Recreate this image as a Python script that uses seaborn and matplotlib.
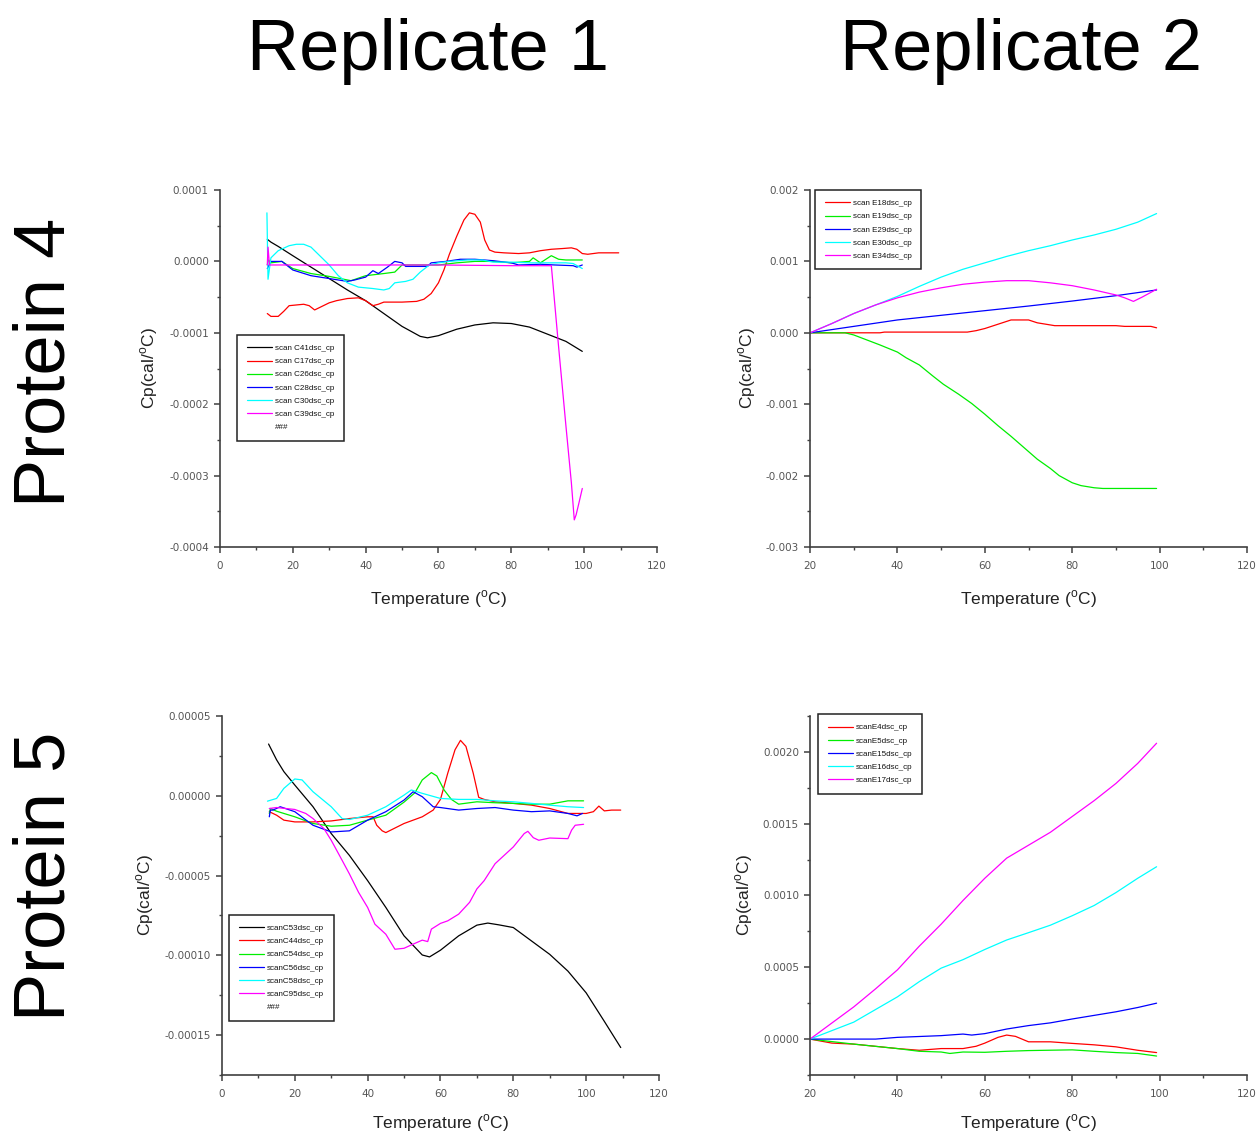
import matplotlib
matplotlib.use("Agg")
import matplotlib.pyplot as plt
import seaborn as sns
from matplotlib.lines import Line2D
from matplotlib.ticker import MultipleLocator, FormatStrFormatter

# ---- Protein 4, replicate 1 (Cp in 1e-4 cal/oC) ----
c41_x = [13, 14, 16, 20, 25, 30, 35, 40, 45, 50, 55, 57, 60, 65, 70, 75, 80, 85, 90, 95, 99.5]
c41_y = [0.31, 0.27, 0.21, 0.08, -0.08, -0.24, -0.40, -0.55, -0.73, -0.91, -1.05, -1.07, -1.04, -0.95,
         -0.89, -0.86, -0.87, -0.92, -1.02, -1.12, -1.26]
c17_x = [13, 14, 16, 17.5, 19, 21, 23, 24.5, 26, 28, 30, 32, 35, 38, 40, 42, 43.5, 45, 50, 54, 56, 58,
         60, 61.5, 63, 65, 67, 68.5, 70, 71.5, 72.7, 74, 75.5, 78, 82, 85, 88, 91, 94, 96.5, 98, 99.5,
         101, 104, 107, 109.5]
c17_y = [-0.73, -0.77, -0.77, -0.70, -0.62, -0.61, -0.60, -0.62, -0.68, -0.63, -0.58, -0.55, -0.52,
         -0.51, -0.55, -0.62, -0.60, -0.57, -0.57, -0.56, -0.53, -0.45, -0.30, -0.12, 0.10, 0.35, 0.58,
         0.68, 0.66, 0.55, 0.30, 0.16, 0.13, 0.12, 0.11, 0.12, 0.15, 0.17, 0.18, 0.19, 0.17, 0.11,
         0.10, 0.12, 0.12, 0.12]
c26_x = [13, 13.3, 14, 17, 20, 25, 30, 34, 36, 40, 45, 48, 50, 55, 60, 65, 70, 75, 80, 85, 86, 88,
         91, 93, 95, 99.5]
c26_y = [-0.05, 0.02, -0.02, 0.0, -0.10, -0.17, -0.21, -0.25, -0.27, -0.20, -0.17, -0.15, -0.05,
         -0.05, -0.05, -0.02, 0.0, 0.0, -0.02, 0.0, 0.05, -0.02, 0.08, 0.03, 0.02, 0.02]
c28_x = [13, 14, 17, 20, 25, 30, 35, 37, 40, 42, 43.5, 46, 48, 50, 51, 57, 58, 62, 66, 70, 75, 80,
         82, 88, 92, 97, 98, 99.5]
c28_y = [-0.10, 0.0, 0.0, -0.12, -0.20, -0.24, -0.28, -0.26, -0.22, -0.13, -0.17, -0.08, 0.0, -0.02,
         -0.07, -0.07, -0.02, 0.0, 0.03, 0.03, 0.01, -0.02, -0.05, -0.04, -0.05, -0.06, -0.08, -0.05]
c30_x = [12.9, 13.2, 14, 16, 19, 21, 23, 25, 27, 30, 32.5, 35, 38, 42, 45, 46.5, 48, 51, 53, 55,
         57.5, 60, 63, 68, 72, 75, 80, 85, 95, 97, 99.5]
c30_y = [0.68, -0.25, 0.05, 0.15, 0.22, 0.24, 0.24, 0.20, 0.10, -0.05, -0.20, -0.30, -0.36, -0.38,
         -0.40, -0.38, -0.30, -0.28, -0.25, -0.15, -0.05, -0.02, 0.0, 0.02, 0.02, -0.01, -0.01,
         -0.02, -0.02, -0.03, -0.10]
c39_x = [13, 13.2, 13.6, 20, 40, 60, 80, 90, 91, 93, 95, 96.5, 97.3, 97.8, 98.5, 99.5]
c39_y = [-0.05, 0.20, -0.05, -0.05, -0.05, -0.05, -0.06, -0.06, -0.06, -1.2, -2.3, -3.1, -3.62,
         -3.55, -3.4, -3.18]

# ---- Protein 4, replicate 2 (Cp in 1e-3 cal/oC) ----
e18_x = [20, 36, 37, 56, 58, 60, 63, 66, 70, 72, 74, 76, 90, 92, 98, 99.3]
e18_y = [0, 0, 0.01, 0.01, 0.03, 0.06, 0.12, 0.18, 0.18, 0.14, 0.12, 0.10, 0.10, 0.09, 0.09, 0.07]
e19_x = [20, 28, 30, 33, 36, 40, 42, 45, 48, 50.5, 54, 57, 60, 63, 66, 69, 72, 75, 77, 80, 82, 85,
         87, 99.3]
e19_y = [0, 0, -0.03, -0.10, -0.17, -0.27, -0.35, -0.45, -0.60, -0.72, -0.86, -0.99, -1.14, -1.30,
         -1.45, -1.61, -1.77, -1.90, -2.00, -2.10, -2.14, -2.17, -2.18, -2.18]
e29_x = [20, 30, 40, 50, 60, 70, 80, 90, 99.3]
e29_y = [0, 0.09, 0.18, 0.245, 0.31, 0.375, 0.445, 0.52, 0.60]
e30_x = [20, 25, 30, 35, 40, 45, 50, 55, 60, 65, 70, 75, 80, 85, 90, 95, 99.3]
e30_y = [0, 0.13, 0.27, 0.39, 0.51, 0.65, 0.78, 0.89, 0.98, 1.07, 1.15, 1.22, 1.30, 1.37, 1.45,
         1.55, 1.67]
e34_x = [20, 25, 30, 35, 40, 45, 50, 55, 60, 65, 70, 75, 80, 85, 90, 92, 94, 96, 99.3]
e34_y = [0, 0.13, 0.27, 0.39, 0.49, 0.57, 0.63, 0.68, 0.71, 0.73, 0.73, 0.70, 0.66, 0.60, 0.53,
         0.49, 0.44, 0.50, 0.61]

# ---- Protein 5, replicate 1 (Cp in 1e-5 cal/oC) ----
c53_x = [12.8, 15, 17, 20, 25, 30, 35, 40, 45, 50, 55, 57, 60, 65, 70, 73, 76, 80, 85, 90, 95, 100,
         105, 109.5]
c53_y = [3.24, 2.25, 1.51, 0.67, -0.69, -2.37, -3.74, -5.32, -7.0, -8.78, -9.98, -10.1, -9.68,
         -8.78, -8.11, -7.98, -8.09, -8.26, -9.1, -9.94, -10.99, -12.35, -14.14, -15.78]
c44_x = [13, 15, 17, 20, 25, 30, 35, 40, 41.5, 42.5, 44, 45, 50, 55, 58, 60, 62, 64, 65.5, 67, 69,
         70.5, 72, 75, 80, 85, 90, 95, 100, 102, 103.5, 105, 107, 109.5]
c44_y = [-1.0, -1.22, -1.53, -1.64, -1.64, -1.58, -1.43, -1.32, -1.32, -1.85, -2.2, -2.31, -1.74,
         -1.32, -0.9, -0.23, 1.41, 2.88, 3.47, 3.09, 1.41, -0.1, -0.23, -0.38, -0.48, -0.59, -0.8,
         -1.11, -1.11, -1.0, -0.65, -0.95, -0.9, -0.9]
c54_x = [13, 13.3, 15, 17, 20, 25, 30, 35, 40, 45, 50, 53, 55, 57.5, 59, 61, 63, 65, 70, 75, 80, 85,
         90, 95, 99.3]
c54_y = [-1.11, -0.8, -0.97, -1.11, -1.32, -1.74, -1.91, -1.85, -1.53, -1.22, -0.4, 0.19, 0.99,
         1.45, 1.24, 0.36, -0.23, -0.53, -0.38, -0.44, -0.48, -0.53, -0.53, -0.32, -0.32]
c56_x = [13, 13.3, 14, 16, 20, 25, 30, 35, 40, 45, 50, 52.5, 55, 58, 60, 65, 70, 75, 80, 85, 90, 95,
         97.5, 99]
c56_y = [-1.32, -0.9, -0.9, -0.69, -1.0, -1.85, -2.27, -2.2, -1.53, -1.0, -0.27, 0.25, -0.06,
         -0.69, -0.74, -0.9, -0.8, -0.74, -0.9, -1.0, -0.95, -1.11, -1.26, -1.11]
c58_x = [12.5, 15, 17, 20, 22, 25, 30, 33, 35, 40, 45, 50, 52, 55, 60, 65, 70, 75, 80, 85, 90, 95,
         99.3]
c58_y = [-0.34, -0.17, 0.46, 1.05, 0.99, 0.25, -0.69, -1.43, -1.49, -1.22, -0.69, 0.04, 0.36,
         0.15, -0.17, -0.23, -0.23, -0.32, -0.38, -0.48, -0.59, -0.69, -0.74]
c95_x = [13, 15, 20, 23, 25, 28, 30, 33, 35, 37.5, 40, 42, 45, 47.5, 50, 52, 55, 56.5, 57.5, 60,
         62, 65, 68, 70, 72, 75, 77, 80, 83, 84, 85.5, 87, 90, 95, 96, 97, 99.3]
c95_y = [-0.8, -0.74, -0.86, -1.11, -1.43, -2.06, -2.79, -4.05, -4.9, -6.05, -7.0, -8.05, -8.68,
         -9.62, -9.56, -9.35, -9.05, -9.14, -8.36, -8.0, -7.84, -7.42, -6.68, -5.84, -5.32, -4.26,
         -3.84, -3.21, -2.37, -2.23, -2.63, -2.79, -2.65, -2.69, -2.16, -1.85, -1.79]

# ---- Protein 5, replicate 2 (Cp in 1e-3 cal/oC) ----
e4_x = [20, 25, 30, 40, 45, 50, 55, 58, 60, 63, 65, 67, 70, 75, 80, 85, 90, 95, 99.3]
e4_y = [0, -0.028, -0.035, -0.066, -0.078, -0.066, -0.066, -0.05, -0.028, 0.012, 0.028, 0.019,
        -0.019, -0.019, -0.03, -0.04, -0.054, -0.078, -0.094]
e5_x = [20, 30, 40, 45, 50, 52, 55, 60, 65, 70, 80, 85, 90, 95, 99.3]
e5_y = [0, -0.035, -0.066, -0.085, -0.09, -0.1, -0.09, -0.092, -0.085, -0.08, -0.075, -0.085,
        -0.094, -0.1, -0.118]
e15_x = [20, 35, 40, 50, 55, 57, 60, 65, 70, 75, 80, 85, 90, 95, 99.3]
e15_y = [0, 0, 0.012, 0.024, 0.035, 0.028, 0.038, 0.07, 0.094, 0.113, 0.14, 0.165, 0.19, 0.22, 0.25]
e16_x = [20, 30, 40, 45, 50, 55, 60, 65, 70, 75, 80, 85, 90, 95, 99.3]
e16_y = [0, 0.118, 0.294, 0.4, 0.494, 0.553, 0.624, 0.69, 0.741, 0.793, 0.859, 0.93, 1.02, 1.12, 1.2]
e17_x = [20, 30, 35, 40, 45, 50, 55, 60, 65, 70, 75, 80, 85, 90, 95, 99.3]
e17_y = [0, 0.224, 0.35, 0.482, 0.647, 0.8, 0.965, 1.12, 1.26, 1.35, 1.44, 1.55, 1.66, 1.78, 1.92,
         2.06]

labels_p4r1 = ["scan C41dsc_cp", "scan C17dsc_cp", "scan C26dsc_cp", "scan C28dsc_cp",
               "scan C30dsc_cp", "scan C39dsc_cp"]
labels_p4r2 = ["scan E18dsc_cp", "scan E19dsc_cp", "scan E29dsc_cp", "scan E30dsc_cp",
               "scan E34dsc_cp"]
labels_p5r1 = ["scanC53dsc_cp", "scanC44dsc_cp", "scanC54dsc_cp", "scanC56dsc_cp",
               "scanC58dsc_cp", "scanC95dsc_cp"]
labels_p5r2 = ["scanE4dsc_cp", "scanE5dsc_cp", "scanE15dsc_cp", "scanE16dsc_cp", "scanE17dsc_cp"]

six_colors = ["#000000", "#ff0000", "#00ee00", "#0000ff", "#00ffff", "#ff00ff"]
five_colors = ["#ff0000", "#00ee00", "#0000ff", "#00ffff", "#ff00ff"]

sns.set_style("ticks")
plt.rcParams["font.family"] = ["Liberation Sans", "DejaVu Sans"]
plt.rcParams["mathtext.fontset"] = "custom"
plt.rcParams["mathtext.rm"] = "Liberation Sans"
plt.rcParams["text.color"] = "black"

fig = plt.figure(figsize=(12.59, 11.33), dpi=100)
fig.patch.set_facecolor("white")

axis_grey = "#404040"


def draw_panel(rect, curves, labels, colors, scale, xlim, ylim, ymajor, fmt, leg_anchor,
               extra_entry, ylab_x, xlab_y):
    ax = fig.add_axes(rect)
    for (xs, ys), lab, col in zip(curves, labels, colors):
        sns.lineplot(x=xs, y=[v * scale for v in ys], ax=ax, color=col, lw=0.9,
                     estimator=None, sort=False, label=lab)
    ax.set_xlim(*xlim)
    ax.set_ylim(*ylim)
    ax.xaxis.set_major_locator(MultipleLocator(20))
    ax.xaxis.set_minor_locator(MultipleLocator(10))
    ax.yaxis.set_major_locator(MultipleLocator(ymajor))
    ax.yaxis.set_minor_locator(MultipleLocator(ymajor / 2))
    ax.yaxis.set_major_formatter(FormatStrFormatter(fmt))
    for side in ["top", "right"]:
        ax.spines[side].set_visible(False)
    for side in ["left", "bottom"]:
        ax.spines[side].set_color(axis_grey)
        ax.spines[side].set_linewidth(1.2)
    ax.tick_params(which="major", direction="out", length=4, width=1.1, color=axis_grey,
                   labelsize=7.5, labelcolor="#555555")
    ax.tick_params(which="minor", direction="out", length=2.2, width=1.0, color=axis_grey)
    ax.tick_params(axis="x", which="major", pad=6)
    ax.tick_params(axis="y", which="major", pad=4)
    for t in ax.get_xticklabels() + ax.get_yticklabels():
        t.set_family("DejaVu Sans")
    ax.set_xlabel(r"Temperature ($^{\mathrm{o}}$C)", fontsize=12.5, color="#222222")
    ax.set_ylabel(r"Cp(cal/$^{\mathrm{o}}$C)", fontsize=12.5, color="#222222")
    ax.xaxis.set_label_coords(0.5, xlab_y)
    ax.yaxis.set_label_coords(ylab_x, 0.5)

    handles, labs = ax.get_legend_handles_labels()
    if extra_entry:
        handles.append(Line2D([], [], linestyle="none"))
        labs.append("###")
    leg = ax.legend(handles, labs, loc="upper left", bbox_to_anchor=leg_anchor, borderaxespad=0,
                    fontsize=5.8, handlelength=3.2, handletextpad=0.3, labelspacing=0.68,
                    frameon=True, fancybox=False, framealpha=1, borderpad=1.2)
    leg.get_frame().set_edgecolor("#222222")
    leg.get_frame().set_linewidth(1.1)
    for t in leg.get_texts():
        t.set_color("#111111")
    return ax


draw_panel([0.1747, 0.5172, 0.3471, 0.3151],
           [(c41_x, c41_y), (c17_x, c17_y), (c26_x, c26_y), (c28_x, c28_y), (c30_x, c30_y),
            (c39_x, c39_y)],
           labels_p4r1, six_colors, 1e-4, (0, 120), (-0.0004, 0.0001), 0.0001, "%.4f",
           (0.039, 0.594), True, -0.137, -0.115)

draw_panel([0.6434, 0.5172, 0.3471, 0.3151],
           [(e18_x, e18_y), (e19_x, e19_y), (e29_x, e29_y), (e30_x, e30_y), (e34_x, e34_y)],
           labels_p4r2, five_colors, 1e-3, (20, 120), (-0.003, 0.002), 0.001, "%.3f",
           (0.011, 1.0), False, -0.12, -0.115)

draw_panel([0.1763, 0.0512, 0.3471, 0.3169],
           [(c53_x, c53_y), (c44_x, c44_y), (c54_x, c54_y), (c56_x, c56_y), (c58_x, c58_y),
            (c95_x, c95_y)],
           labels_p5r1, six_colors, 1e-5, (0, 120), (-0.000175, 0.00005), 0.00005, "%.5f",
           (0.016, 0.446), True, -0.152, -0.105)

draw_panel([0.6434, 0.0512, 0.3471, 0.3169],
           [(e4_x, e4_y), (e5_x, e5_y), (e15_x, e15_y), (e16_x, e16_y), (e17_x, e17_y)],
           labels_p5r2, five_colors, 1e-3, (20, 120), (-0.00025, 0.00225), 0.0005, "%.4f",
           (0.018, 1.005), False, -0.125, -0.105)

# big row / column headings
fig.text(428 / 1259, 1 - 70 / 1133, "Replicate 1", fontsize=52, ha="center", va="baseline",
         color="black")
fig.text(1021 / 1259, 1 - 70 / 1133, "Replicate 2", fontsize=52, ha="center", va="baseline",
         color="black")
fig.text(46 / 1259, 1 - 362 / 1133, "Protein 4", fontsize=52, ha="center", va="center",
         rotation=90, color="black")
fig.text(46 / 1259, 1 - 876 / 1133, "Protein 5", fontsize=52, ha="center", va="center",
         rotation=90, color="black")

fig.savefig("out.png", dpi=100, facecolor="white")
